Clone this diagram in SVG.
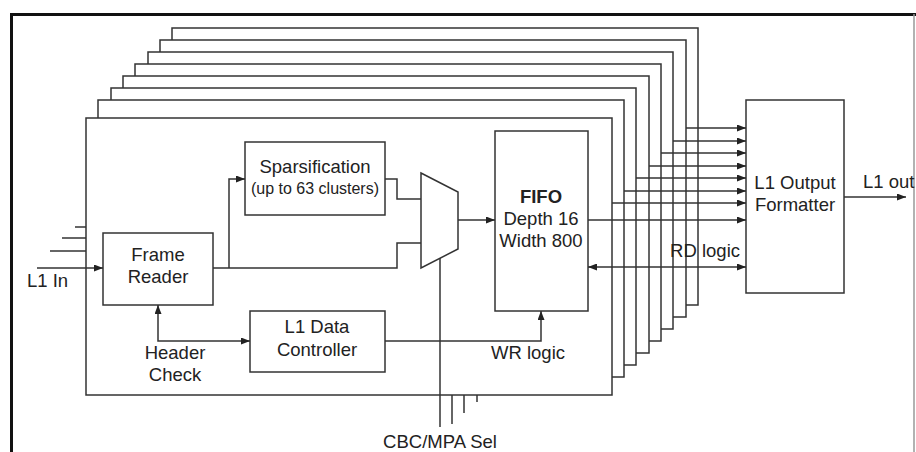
<svg xmlns="http://www.w3.org/2000/svg" width="916" height="452" viewBox="0 0 916 452">
  <style>
    .ln { fill: none; stroke: #333; stroke-width: 1.5; }
    .bx { fill: #fff; stroke: #333; stroke-width: 1.5; }
    .t { font-family: "Liberation Sans", Arial, sans-serif; font-size: 18.5px; fill: #222; text-anchor: middle; }
    .s { font-size: 16px; }
    .b { font-weight: bold; }
  </style>
  <defs>
    <marker id="ah" markerWidth="9" markerHeight="7" refX="9" refY="3.5" orient="auto-start-reverse" markerUnits="userSpaceOnUse">
      <path d="M0,0 L9,3.5 L0,7 z" fill="#222"/>
    </marker>
  </defs>
  <rect width="916" height="452" fill="#fff"/>
  <g id="frame">
    <path d="M11.5,452 L11.5,14.5 L916,14.5" fill="none" stroke="#111" stroke-width="3"/>
    <line x1="914" y1="14" x2="914" y2="452" stroke="#999" stroke-width="1.5"/>
  </g>
  <g id="channels">
    <rect class="bx" x="172" y="28" width="526" height="277"/>
    <rect class="bx" x="160" y="40" width="526" height="277"/>
    <rect class="bx" x="148" y="52" width="525" height="277"/>
    <rect class="bx" x="135" y="64" width="526" height="277"/>
    <rect class="bx" x="123" y="76" width="526" height="277"/>
    <rect class="bx" x="111" y="88" width="525" height="277"/>
    <rect class="bx" x="98" y="100" width="526" height="277"/>
    <rect class="bx" x="86" y="118" width="526" height="277"/>
  </g>
  <g id="sparsification">
    <rect class="bx" x="245" y="142" width="140" height="73"/>
    <text class="t" x="315" y="173">Sparsification</text>
    <text class="t s" x="315" y="194">(up to 63 clusters)</text>
  </g>
  <g id="mux">
    <polygon class="bx" points="421,173 458,192 458,249 421,268"/>
  </g>
  <g id="fifo">
    <rect class="bx" x="495" y="131" width="93" height="180"/>
    <text class="t b" x="541" y="203">FIFO</text>
    <text class="t" x="541" y="225">Depth 16</text>
    <text class="t" x="541" y="247">Width 800</text>
  </g>
  <g id="frame-reader">
    <rect class="bx" x="103" y="233" width="110" height="72"/>
    <text class="t" x="158" y="261">Frame</text>
    <text class="t" x="158" y="283">Reader</text>
  </g>
  <g id="l1-data-controller">
    <rect class="bx" x="250" y="311" width="135" height="61"/>
    <text class="t" x="317" y="333">L1 Data</text>
    <text class="t" x="317" y="356">Controller</text>
  </g>
  <g id="l1-output-formatter">
    <rect class="bx" x="746" y="100" width="98" height="193"/>
    <text class="t" x="795" y="189">L1 Output</text>
    <text class="t" x="795" y="211">Formatter</text>
  </g>
  <g id="connectors">
    <line class="ln" x1="75" y1="227" x2="86" y2="227"/>
    <line class="ln" x1="62" y1="238" x2="86" y2="238"/>
    <line class="ln" x1="50" y1="251" x2="86" y2="251"/>
    <line class="ln" x1="37" y1="268" x2="103" y2="268" marker-end="url(#ah)"/>
    <polyline class="ln" points="213,268 397,268 397,243 421,243"/>
    <polyline class="ln" points="229,268 229,179 245,179" marker-end="url(#ah)"/>
    <polyline class="ln" points="385,179 397,179 397,199 421,199"/>
    <line class="ln" x1="458" y1="220" x2="495" y2="220" marker-end="url(#ah)"/>
    <polyline class="ln" points="158,305 158,341 250,341" marker-start="url(#ah)" marker-end="url(#ah)"/>
    <polyline class="ln" points="385,341 541,341 541,311" marker-end="url(#ah)"/>
    <line class="ln" x1="440" y1="258" x2="440" y2="427"/>
    <line class="ln" x1="452" y1="395" x2="452" y2="424"/>
    <line class="ln" x1="464" y1="395" x2="464" y2="413"/>
    <line class="ln" x1="477" y1="395" x2="477" y2="402"/>
    <line class="ln" x1="686" y1="128" x2="746" y2="128" marker-end="url(#ah)"/>
    <line class="ln" x1="673" y1="141" x2="746" y2="141" marker-end="url(#ah)"/>
    <line class="ln" x1="661" y1="153" x2="746" y2="153" marker-end="url(#ah)"/>
    <line class="ln" x1="649" y1="166" x2="746" y2="166" marker-end="url(#ah)"/>
    <line class="ln" x1="636" y1="178" x2="746" y2="178" marker-end="url(#ah)"/>
    <line class="ln" x1="624" y1="191" x2="746" y2="191" marker-end="url(#ah)"/>
    <line class="ln" x1="612" y1="203" x2="746" y2="203" marker-end="url(#ah)"/>
    <line class="ln" x1="588" y1="220" x2="746" y2="220" marker-end="url(#ah)"/>
    <line class="ln" x1="588" y1="267" x2="746" y2="267" marker-start="url(#ah)" marker-end="url(#ah)"/>
    <line class="ln" x1="844" y1="197" x2="906" y2="197" marker-end="url(#ah)"/>
  </g>
  <g id="labels">
    <text class="t" x="27" y="287" style="text-anchor:start">L1 In</text>
    <text class="t" x="175" y="359">Header</text>
    <text class="t" x="175" y="381">Check</text>
    <text class="t" x="528" y="359">WR logic</text>
    <text class="t" x="740" y="257" style="text-anchor:end">RD logic</text>
    <text class="t" x="863" y="188" style="text-anchor:start">L1 out</text>
    <text class="t" x="440" y="448">CBC/MPA Sel</text>
  </g>
</svg>
